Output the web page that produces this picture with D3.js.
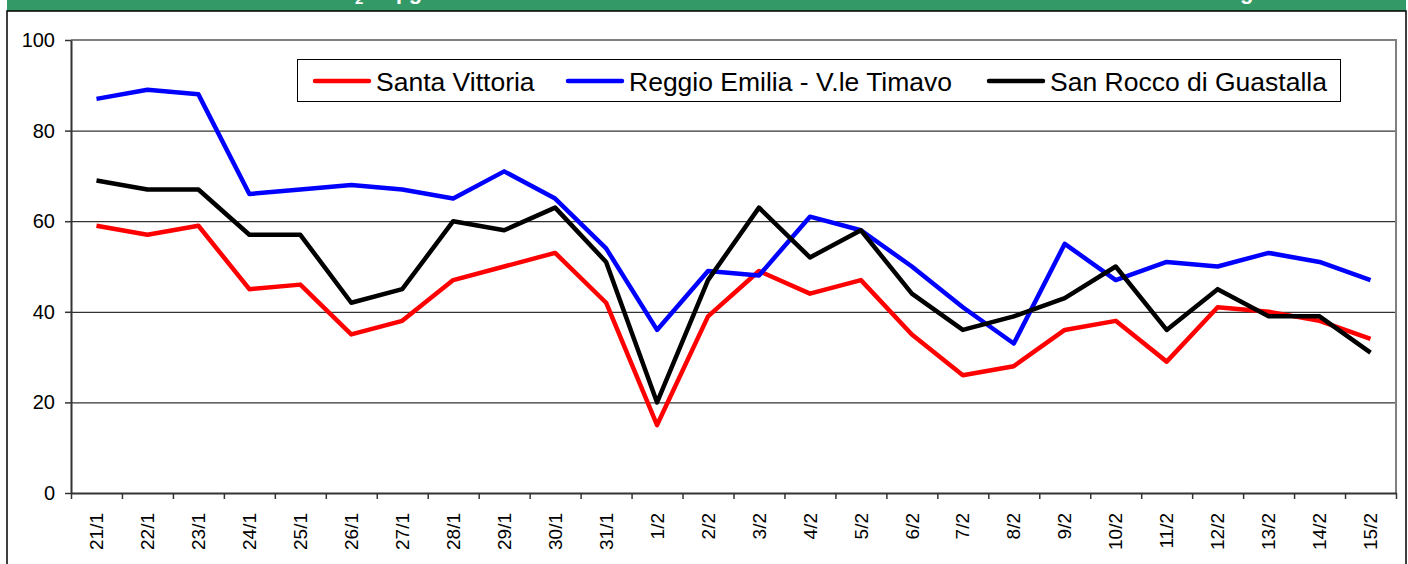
<!DOCTYPE html>
<html>
<head>
<meta charset="utf-8">
<script src="https://cdn.jsdelivr.net/npm/d3@7.9.0/dist/d3.min.js"></script>
<style>
    body { margin: 0; background: #fff; }
    svg { display: block; font-family: Arial, "Liberation Sans", sans-serif; }
</style>
</head>
<body>
<div id="chart"></div>
<script>
// data
const dates = ['21/1', '22/1', '23/1', '24/1', '25/1', '26/1', '27/1', '28/1', '29/1', '30/1', '31/1',
    '1/2', '2/2', '3/2', '4/2', '5/2', '6/2', '7/2', '8/2', '9/2', '10/2', '11/2', '12/2', '13/2', '14/2', '15/2'];

const santaVittoria = [59, 57, 59, 45, 46, 35, 38, 47, 50, 53, 42, 15, 39, 49, 44, 47, 35, 26, 28, 36, 38, 29, 41, 40, 38, 34];
const reggioEmilia = [87, 89, 88, 66, 67, 68, 67, 65, 71, 65, 54, 36, 49, 48, 61, 58, 50, 41, 33, 55, 47, 51, 50, 53, 51, 47];
const sanRocco = [69, 67, 67, 57, 57, 42, 45, 60, 58, 63, 51, 20, 47, 63, 52, 58, 44, 36, 39, 43, 50, 36, 45, 39, 39, 31];

const seriesNames = ['Santa Vittoria', 'Reggio Emilia - V.le Timavo', 'San Rocco di Guastalla'];
const seriesColors = ['#ff0000', '#0000ff', '#000000'];
const yTicks = [0, 20, 40, 60, 80, 100];

function renderChart() {
    const width = 1408;
    const height = 564;

    const svg = d3.select('#chart')
        .append('svg')
        .attr('width', width)
        .attr('height', height);

    const plot = { left: 71, right: 1396, top: 40, bottom: 493 };

    // green title band (title text sits above the visible area, only descenders show)
    svg.append('rect')
        .attr('x', 7).attr('y', -2)
        .attr('width', 1399).attr('height', 13)
        .attr('fill', '#339966');

    const title = svg.append('g')
        .attr('fill', '#fff')
        .attr('font-weight', 'bold')
        .attr('font-size', '22px');
    title.append('text')
        .attr('x', 355).attr('y', -2)
        .attr('text-anchor', 'end')
        .text('Concentrazioni medie di NO');
    title.append('text')
        .attr('x', 355).attr('y', 3.5)
        .attr('font-size', '15px')
        .text('2');
    title.append('text')
        .attr('x', 396).attr('y', -1)
        .text('µg/m³');
    title.append('text')
        .attr('x', 1240).attr('y', -1)
        .text('giornaliere');

    // outer frame
    svg.append('rect')
        .attr('x', 7).attr('y', 11)
        .attr('width', 1399).attr('height', 600)
        .attr('fill', 'none')
        .attr('stroke', '#000')
        .attr('stroke-width', 1.5);

    const xScale = d3.scaleBand()
        .domain(dates)
        .range([plot.left, plot.right])
        .padding(0);

    const yScale = d3.scaleLinear()
        .domain([0, 100])
        .range([plot.bottom, plot.top]);

    // gridlines
    svg.append('g')
        .attr('class', 'gridlines')
        .attr('transform', `translate(${plot.left}, 0)`)
        .call(d3.axisLeft(yScale).tickValues(yTicks.filter(t => t > 0 && t < 100)).tickFormat('').tickSize(-(plot.right - plot.left)))
        .call(g => g.select('.domain').remove())
        .call(g => g.selectAll('line').attr('stroke', '#000').attr('stroke-width', 1));

    // plot area border top / right
    svg.append('path')
        .attr('d', `M${plot.left},${plot.top}H${plot.right}V${plot.bottom}`)
        .attr('fill', 'none')
        .attr('stroke', '#808080')
        .attr('stroke-width', 2);

    // lines
    const line = d3.line()
        .x((d, i) => xScale(dates[i]) + xScale.bandwidth() / 2)
        .y(d => yScale(d));

    [santaVittoria, reggioEmilia, sanRocco].forEach((values, i) => {
        svg.append('path')
            .datum(values)
            .attr('fill', 'none')
            .attr('stroke', seriesColors[i])
            .attr('stroke-width', 4.5)
            .attr('stroke-linejoin', 'round')
            .attr('d', line);
    });

    // y axis
    svg.append('g')
        .attr('class', 'y-axis')
        .attr('transform', `translate(${plot.left}, 0)`)
        .call(d3.axisLeft(yScale).tickValues(yTicks).tickSize(6).tickPadding(10).tickSizeOuter(0))
        .call(g => g.select('.domain').attr('stroke', '#333').attr('stroke-width', 2))
        .call(g => g.selectAll('line').attr('stroke', '#333').attr('stroke-width', 1.5))
        .call(g => g.selectAll('text').attr('font-size', '20px').attr('font-family', 'Arial, "Liberation Sans", sans-serif').attr('fill', '#000'));

    // x axis: ticks at category boundaries
    const boundary = d3.scaleLinear().domain([0, dates.length]).range([plot.left, plot.right]);
    svg.append('g')
        .attr('class', 'x-ticks')
        .attr('transform', `translate(0, ${plot.bottom})`)
        .call(d3.axisBottom(boundary).tickValues(d3.range(dates.length + 1)).tickFormat('').tickSize(6).tickSizeOuter(0))
        .call(g => g.select('.domain').attr('stroke', '#333').attr('stroke-width', 2))
        .call(g => g.selectAll('line').attr('stroke', '#333').attr('stroke-width', 1.5));

    // x labels
    svg.append('g')
        .attr('class', 'x-axis')
        .attr('transform', `translate(0, ${plot.bottom})`)
        .call(d3.axisBottom(xScale).tickSize(0))
        .call(g => g.select('.domain').remove())
        .call(g => g.selectAll('text')
            .attr('font-size', '19px')
            .attr('font-family', 'Arial, "Liberation Sans", sans-serif')
            .attr('fill', '#000')
            .attr('transform', 'rotate(-90)')
            .attr('text-anchor', 'end')
            .attr('x', -20)
            .attr('y', 0)
            .attr('dy', '0.35em'));

    // legend
    const legend = svg.append('g').attr('class', 'legend');
    legend.append('rect')
        .attr('x', 297.5).attr('y', 59.5)
        .attr('width', 1043).attr('height', 42)
        .attr('fill', '#fff')
        .attr('stroke', '#000')
        .attr('stroke-width', 1);

    const legendX = [315, 568, 989];
    const item = legend.selectAll('.legend-item')
        .data(seriesNames)
        .enter()
        .append('g')
        .attr('class', 'legend-item')
        .attr('transform', (d, i) => `translate(${legendX[i]}, 81)`);

    item.append('line')
        .attr('x1', 0).attr('x2', 54)
        .attr('stroke', (d, i) => seriesColors[i])
        .attr('stroke-width', 4.5)
        .attr('stroke-linecap', 'round');

    item.append('text')
        .attr('x', 61)
        .attr('dy', '0.36em')
        .attr('font-size', '26.5px')
        .text(d => d);
}

renderChart();
</script>
</body>
</html>
